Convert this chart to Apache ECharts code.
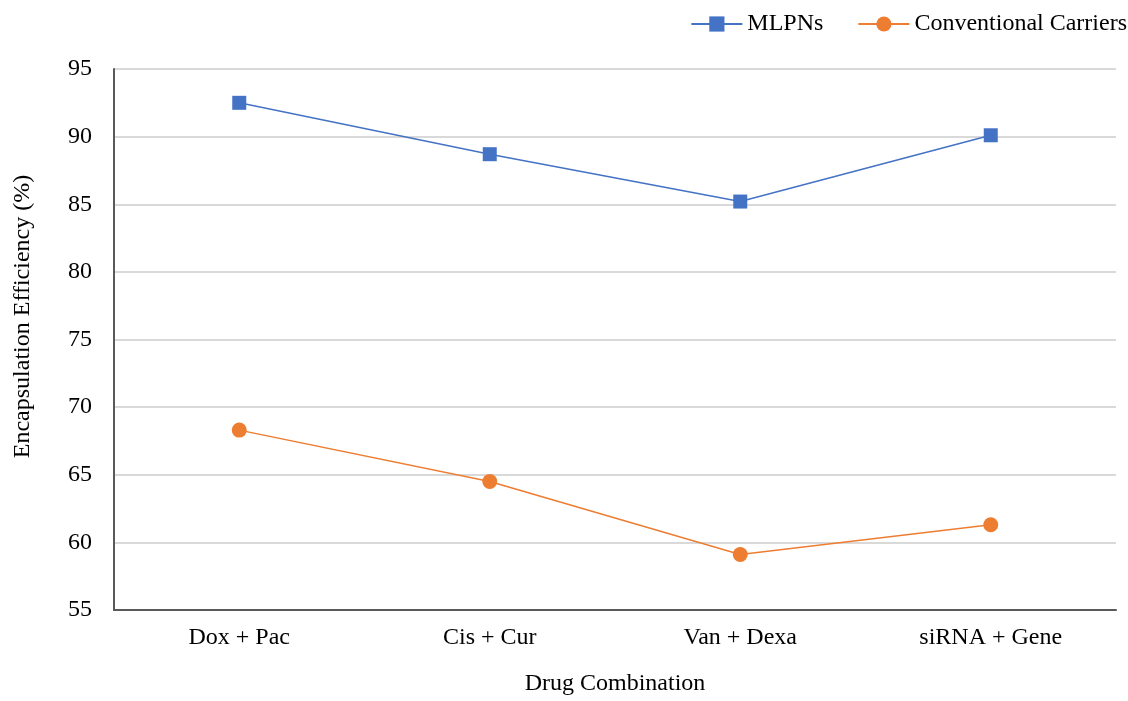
<!DOCTYPE html>
<html>
<head>
<meta charset="utf-8">
<script src="https://cdn.jsdelivr.net/npm/echarts@6/dist/echarts.min.js"></script>
<style>
  html, body { margin: 0; padding: 0; background: #fff; overflow: hidden; }
  #chart { width: 1128px; height: 701px; }
</style>
</head>
<body>
<div id="chart"></div>
<script>
// Drug combinations on the category axis
const categories = ['Dox + Pac', 'Cis + Cur', 'Van + Dexa', 'siRNA + Gene'];
// Encapsulation efficiency (%) for each carrier type
const mlpnValues = [92.5, 88.7, 85.2, 90.1];
const conventionalValues = [68.3, 64.5, 59.1, 61.3];
// Value axis ticks
const yTicks = [55, 60, 65, 70, 75, 80, 85, 90, 95];

const serif = '"Liberation Serif", "Times New Roman", serif';
const chart = echarts.init(document.getElementById('chart'), null, { renderer: 'canvas' });

chart.setOption({
  animation: false,
  backgroundColor: '#ffffff',
  textStyle: { fontFamily: serif },
  legend: {
    top: 7,
    right: 1,
    padding: [5, 0, 5, 5],
    itemWidth: 51,
    itemHeight: 19,
    itemGap: 34,
    textStyle: { fontFamily: serif, fontSize: 24, color: '#000' },
    data: ['MLPNs', 'Conventional Carriers']
  },
  grid: { left: 114, top: 69, width: 1002, height: 549, containLabel: false },
  xAxis: {
    type: 'category',
    data: categories,
    boundaryGap: true,
    name: 'Drug Combination',
    nameLocation: 'middle',
    nameGap: 62,
    nameTextStyle: { fontFamily: serif, fontSize: 24, color: '#000' },
    axisLine: { show: true, lineStyle: { color: '#595959', width: 2 } },
    axisTick: { show: false },
    axisLabel: { fontFamily: serif, fontSize: 24, color: '#000', margin: 16 },
    splitLine: { show: false }
  },
  yAxis: {
    type: 'value',
    min: yTicks[0],
    max: yTicks[yTicks.length - 1],
    interval: 5,
    name: 'Encapsulation Efficiency (%)',
    nameLocation: 'middle',
    nameGap: 79,
    nameRotate: 90,
    nameTextStyle: { fontFamily: serif, fontSize: 24, color: '#000', padding: [0, 0, 0, 46] },
    axisLine: { show: true, lineStyle: { color: '#595959', width: 2 } },
    axisTick: { show: false },
    axisLabel: { fontFamily: serif, fontSize: 24, color: '#000', margin: 22 },
    splitLine: { show: true, lineStyle: { color: '#d9d9d9', width: 2 } }
  },
  series: [
    {
      name: 'MLPNs',
      type: 'line',
      data: mlpnValues,
      symbol: 'rect',
      symbolSize: 14,
      lineStyle: { color: '#4472c4', width: 1.5 },
      itemStyle: { color: '#4472c4' }
    },
    {
      name: 'Conventional Carriers',
      type: 'line',
      data: conventionalValues,
      symbol: 'circle',
      symbolSize: 15,
      lineStyle: { color: '#ed7d31', width: 1.5 },
      itemStyle: { color: '#ed7d31' }
    }
  ]
});
</script>
</body>
</html>
